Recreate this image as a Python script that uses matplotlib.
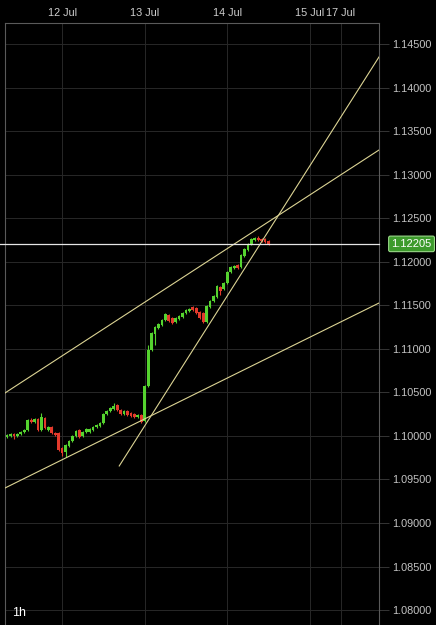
import numpy as np
import matplotlib
matplotlib.use("Agg")
import matplotlib.pyplot as plt
import matplotlib.transforms as mtransforms

plt.rcParams['font.family'] = ['Liberation Sans', 'DejaVu Sans']

# hourly candles, x = hours from 12 Jul 00:00
hours = list(range(-16, 61))
opens = [1.09989, 1.10000, 1.10023, 1.10000, 1.10023, 1.10046, 1.10069, 1.10184, 1.10161, 1.10195,
         1.10069, 1.10207, 1.10069, 1.10103, 1.10034, 1.10034, 1.09862, 1.09816, 1.09885, 1.09943,
         1.10000, 1.10069, 1.10000, 1.10046, 1.10046, 1.10069, 1.10103, 1.10115, 1.10149, 1.10253,
         1.10287, 1.10310, 1.10356, 1.10299, 1.10253, 1.10287, 1.10264, 1.10253, 1.10218, 1.10241,
         1.10172, 1.10574, 1.10987, 1.11171, 1.11240, 1.11274, 1.11332, 1.11389, 1.11355, 1.11309,
         1.11343, 1.11366, 1.11412, 1.11435, 1.11481, 1.11469, 1.11423, 1.11412, 1.11309, 1.11481,
         1.11550, 1.11596, 1.11711, 1.11688, 1.11756, 1.11883, 1.11929, 1.11963, 1.11940, 1.12066,
         1.12135, 1.12204, 1.12250, 1.12273, 1.12262, 1.12262, 1.12239]
closes = [1.10011, 1.10023, 1.10000, 1.10023, 1.10046, 1.10069, 1.10184, 1.10161, 1.10195, 1.10069,
          1.10218, 1.10092, 1.10103, 1.10034, 1.10011, 1.09839, 1.09805, 1.09897, 1.09943, 1.10000,
          1.10057, 1.09989, 1.10046, 1.10080, 1.10080, 1.10103, 1.10126, 1.10149, 1.10253, 1.10287,
          1.10321, 1.10344, 1.10299, 1.10253, 1.10287, 1.10241, 1.10230, 1.10218, 1.10241, 1.10161,
          1.10574, 1.10987, 1.11182, 1.11251, 1.11286, 1.11332, 1.11400, 1.11320, 1.11297, 1.11355,
          1.11378, 1.11412, 1.11447, 1.11458, 1.11447, 1.11412, 1.11355, 1.11309, 1.11492, 1.11550,
          1.11607, 1.11722, 1.11665, 1.11756, 1.11883, 1.11940, 1.11952, 1.11929, 1.12078, 1.12147,
          1.12204, 1.12262, 1.12273, 1.12250, 1.12239, 1.12227, 1.12205]
highs = [1.10023, 1.10034, 1.10034, 1.10034, 1.10057, 1.10080, 1.10195, 1.10207, 1.10207, 1.10207,
         1.10264, 1.10218, 1.10115, 1.10115, 1.10046, 1.10046, 1.09874, 1.09908, 1.09954, 1.10011,
         1.10069, 1.10080, 1.10057, 1.10092, 1.10092, 1.10115, 1.10138, 1.10161, 1.10264, 1.10299,
         1.10333, 1.10379, 1.10367, 1.10310, 1.10299, 1.10299, 1.10276, 1.10264, 1.10253, 1.10253,
         1.10586, 1.11045, 1.11194, 1.11263, 1.11297, 1.11343, 1.11412, 1.11400, 1.11366, 1.11366,
         1.11389, 1.11423, 1.11458, 1.11469, 1.11492, 1.11481, 1.11435, 1.11423, 1.11504, 1.11561,
         1.11619, 1.11733, 1.11722, 1.11768, 1.11894, 1.11952, 1.11963, 1.11975, 1.12089, 1.12158,
         1.12216, 1.12273, 1.12285, 1.12296, 1.12273, 1.12273, 1.12250]
lows = [1.09977, 1.09989, 1.09966, 1.09989, 1.10011, 1.10034, 1.10057, 1.10149, 1.10149, 1.10057,
        1.10057, 1.10080, 1.10057, 1.10023, 1.10000, 1.09828, 1.09770, 1.09759, 1.09874, 1.09931,
        1.09989, 1.09977, 1.09989, 1.10034, 1.10034, 1.10057, 1.10092, 1.10103, 1.10138, 1.10241,
        1.10276, 1.10299, 1.10287, 1.10241, 1.10241, 1.10230, 1.10218, 1.10207, 1.10207, 1.10149,
        1.10161, 1.10563, 1.10976, 1.11045, 1.11228, 1.11263, 1.11320, 1.11309, 1.11286, 1.11297,
        1.11332, 1.11355, 1.11400, 1.11423, 1.11435, 1.11400, 1.11343, 1.11297, 1.11297, 1.11469,
        1.11538, 1.11584, 1.11619, 1.11676, 1.11745, 1.11871, 1.11917, 1.11917, 1.11929, 1.12055,
        1.12124, 1.12193, 1.12239, 1.12239, 1.12227, 1.12216, 1.12193]

last_price = 1.12205

# trend lines (hour, price) anchors
upper_line = [(-16.6, 1.10493), (92.1, 1.13283)]
lower_line = [(-16.6, 1.09402), (92.1, 1.11526)]
steep_line = [(16.6, 1.09655), (92.1, 1.14351)]

day_ticks = [0, 24, 48, 72, 81]
day_labels = ["12 Jul", "13 Jul", "14 Jul", "15 Jul", "17 Jul"]
price_ticks = [1.080, 1.085, 1.090, 1.095, 1.100, 1.105, 1.110,
               1.115, 1.120, 1.125, 1.130, 1.135, 1.140, 1.145]

GREEN = "#55d32f"
RED = "#e33a2c"
LINE = "#dcd494"

fig = plt.figure(figsize=(4.36, 6.25), dpi=100, facecolor="black")
ax = fig.add_axes([5 / 436, 0, 374 / 436, 602 / 625])
ax.set_facecolor("black")

ax.set_xlim(-16.6, 92.1)
ax.set_ylim(1.07829, 1.14741)

# grid
ax.set_xticks(day_ticks)
ax.set_yticks(price_ticks)
ax.grid(True, color="#282828", linewidth=0.7)
ax.set_axisbelow(True)

for h, o, c, hi, lo in zip(hours, opens, closes, highs, lows):
    col = GREEN if c >= o else RED
    ax.vlines(h, lo, hi, color=col, linewidth=0.8, zorder=3)
    ax.bar(h, max(abs(c - o), 0.00004), bottom=min(o, c), width=0.8,
           color=col, edgecolor="none", zorder=4)

for ln in (upper_line, lower_line, steep_line):
    xs, ys = zip(*ln)
    ax.plot(xs, ys, color=LINE, linewidth=0.8, zorder=5)

# last price line + tag
trans = mtransforms.blended_transform_factory(ax.transAxes, ax.transData)
ax.plot([-0.02, 1.0], [last_price, last_price], color="#e6e6e6", linewidth=0.9,
        transform=trans, clip_on=False, zorder=6)
ax.text(1.087, last_price, "%.5f" % last_price, transform=trans, ha="center", va="center",
        color="white", fontsize=8,
        bbox=dict(boxstyle="round,pad=0.25,rounding_size=0.15", facecolor="#3d9a2c",
                  edgecolor="#9ad889", linewidth=0.8), zorder=7)

# axes styling
ax.xaxis.tick_top()
ax.tick_params(axis="x", length=0, pad=3.5, labelsize=7.8, labelcolor="#cfcfcf")
ax.set_xticklabels(day_labels)
ax.yaxis.tick_right()
ax.tick_params(axis="y", length=7.5, width=0.7, color="#353535", pad=2,
               labelsize=7.8, labelcolor="#c4c4c4")
ax.set_yticklabels(["%.5f" % p for p in price_ticks])

for side in ("top", "left", "right"):
    ax.spines[side].set_color("#5a5a5a")
    ax.spines[side].set_linewidth(0.8)
ax.spines["bottom"].set_visible(False)

fig.text(12 / 436, 1 - 613 / 625, "1h", color="white", fontsize=9, va="center", ha="left")

fig.savefig("out.png", dpi=100, facecolor="black")
